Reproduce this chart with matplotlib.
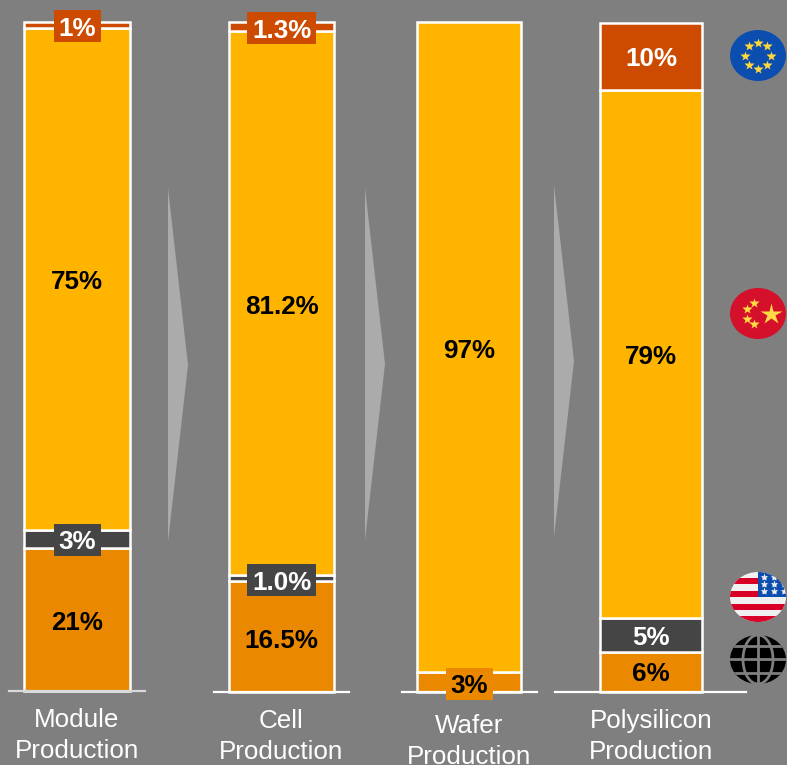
import numpy as np
import matplotlib
matplotlib.use("Agg")
import matplotlib.pyplot as plt
from matplotlib.patches import Ellipse, Polygon, Rectangle

plt.rcParams['font.family'] = ['Liberation Sans', 'DejaVu Sans']

W, H = 787, 765
BG = '#7F7F7F'

# Data (bottom to top)
module_values = [21.4, 2.7, 75, 0.9]
module_labels = ['21%', '3%', '75%', '1%']
cell_values = [16.5, 1.0, 81.2, 1.3]
cell_labels = ['16.5%', '1.0%', '81.2%', '1.3%']
wafer_values = [3, 97]
wafer_labels = ['3%', '97%']
poly_values = [6, 5, 79, 10]
poly_labels = ['6%', '5%', '79%', '10%']
names = ['Module\nProduction', 'Cell\nProduction', 'Wafer\nProduction', 'Polysilicon\nProduction']

ROW = '#EA8800'; USA = '#454545'; CHN = '#FFB400'; EU = '#CC4B00'
four = [ROW, USA, CHN, EU]

# panel layout in pixels
panels = [
    (module_values, module_labels, four, names[0], 24, 130, 22, 691, 9, 145, 12, '#D9D9D9', [1, 3], 1),
    (cell_values, cell_labels, four, names[1], 229, 334, 22, 692, 214, 349, 12, 'white', [1, 3], 2),
    (wafer_values, wafer_labels, [ROW, CHN], names[2], 417, 521, 22, 692, 402, 537, 16, 'white', [0], 2),
    (poly_values, poly_labels, four, names[3], 600, 702, 23, 692, 555, 746, 12, 'white', [], 0),
]

fig = plt.figure(figsize=(W / 100, H / 100), dpi=100, facecolor=BG)

for vals, labs, cols, name, bl, br, top, bot, ll, lr, pad, basec, boxed, off in panels:
    ax = fig.add_axes([ll / W, 1 - bot / H, (lr - ll) / W, (bot - top) / H], facecolor='none')
    bw = br - bl
    cx = (bl + br) / 2
    total = sum(vals)
    ax.set_xlim((ll - cx) / bw, (lr - cx) / bw)
    ax.set_ylim(0, total)
    ypx = total / (bot - top)
    bottom = 0
    for i, (v, lab, c) in enumerate(zip(vals, labs, cols)):
        ax.bar(0, v, width=1, bottom=bottom, color=c, edgecolor='white', linewidth=1.8, clip_on=False)
        dark_text = c in (ROW, CHN)
        yc = bottom + v / 2 - off * ypx
        ax.text(0, yc, lab, ha='center', va='center_baseline',
                fontsize=18.7, fontweight='bold', zorder=6,
                color='black' if dark_text else 'white')
        if i in boxed:
            bwpx = 47 if len(lab) == 2 else 69
            ax.add_patch(Rectangle((-bwpx / bw / 2, yc - 16 * ypx), bwpx / bw, 32 * ypx,
                                   facecolor=c, edgecolor='none', zorder=5.5, clip_on=False))
        bottom += v
    for s in ('left', 'right', 'top'):
        ax.spines[s].set_visible(False)
    ax.spines['bottom'].set_color(basec)
    ax.spines['bottom'].set_linewidth(1.6)
    ax.spines['bottom'].set_zorder(5)
    ax.set_yticks([])
    ax.set_xticks([0])
    ax.set_xticklabels([name], fontsize=18.7, color='white', linespacing=1.36)
    ax.tick_params(axis='x', length=0, pad=pad)

# overlay in pixel coordinates for arrows and flags
ov = fig.add_axes([0, 0, 1, 1], facecolor='none')
ov.set_xlim(0, W); ov.set_ylim(H, 0); ov.axis('off')

for x0, y0, y1 in [(168, 188, 542), (365, 188, 540), (554, 185, 537)]:
    ov.add_patch(Polygon([(x0, y0), (x0 + 20, (y0 + y1) / 2), (x0, y1)], closed=True,
                         facecolor='#ABABAB', edgecolor='none'))

def star(x, y, s, c, clip=None):
    l, = ov.plot([x], [y], marker='*', ms=s, color=c, mec='none', zorder=8)
    if clip is not None:
        l.set_clip_path(clip)

# EU
ov.add_patch(Ellipse((758, 55.5), 56, 51, facecolor='#0B4EB0', edgecolor='none'))
for a in np.arange(0, 360, 45):
    star(758 + 13 * np.cos(np.radians(a)), 55.5 + 13 * np.sin(np.radians(a)), 7.5, '#FFD83A')

# China
ov.add_patch(Ellipse((758, 313.5), 56, 51, facecolor='#D5102B', edgecolor='none'))
star(771, 314, 16, '#FFDA44')
for x, y in [(754, 303), (747, 309), (747, 319), (754, 324)]:
    star(x, y, 7.5, '#FFDA44')

# USA
uc = (758, 597)
clip = Ellipse(uc, 56, 50, transform=ov.transData)
ov.add_patch(Ellipse(uc, 56, 50, facecolor='#F0F0F0', edgecolor='none', zorder=7))
for y0, y1 in [(578, 584), (591, 597), (604, 610), (616, 623)]:
    p = Rectangle((725, y0), 66, y1 - y0, facecolor='#D80027', edgecolor='none', zorder=7)
    ov.add_patch(p); p.set_clip_path(clip)
p = Rectangle((758, 570), 32, 27, facecolor='#0B4EB0', edgecolor='none', zorder=7)
ov.add_patch(p); p.set_clip_path(clip)
for y in (577, 584, 591):
    for x in (764, 774, 784):
        star(x, y, 6, '#F0F0F0', clip)

# Globe
gx, gy = 758, 659.5
ov.add_patch(Ellipse((gx, gy), 56, 49, facecolor='black', edgecolor='none', zorder=7))
gclip = Ellipse((gx, gy), 56, 49, transform=ov.transData)
for y in (646, 659, 673):
    l, = ov.plot([725, 790], [y, y], color=BG, lw=2, zorder=8); l.set_clip_path(gclip)
l, = ov.plot([gx, gx], [gy - 30, gy + 30], color=BG, lw=2, zorder=8); l.set_clip_path(gclip)
t = np.linspace(-np.pi / 2, np.pi / 2, 60)
for k in (-1, 1):
    ov.plot(gx + k * 15 * np.cos(t), gy + 24.5 * np.sin(t), color=BG, lw=2, zorder=8)

fig.savefig('out.png', dpi=100, facecolor=BG)
